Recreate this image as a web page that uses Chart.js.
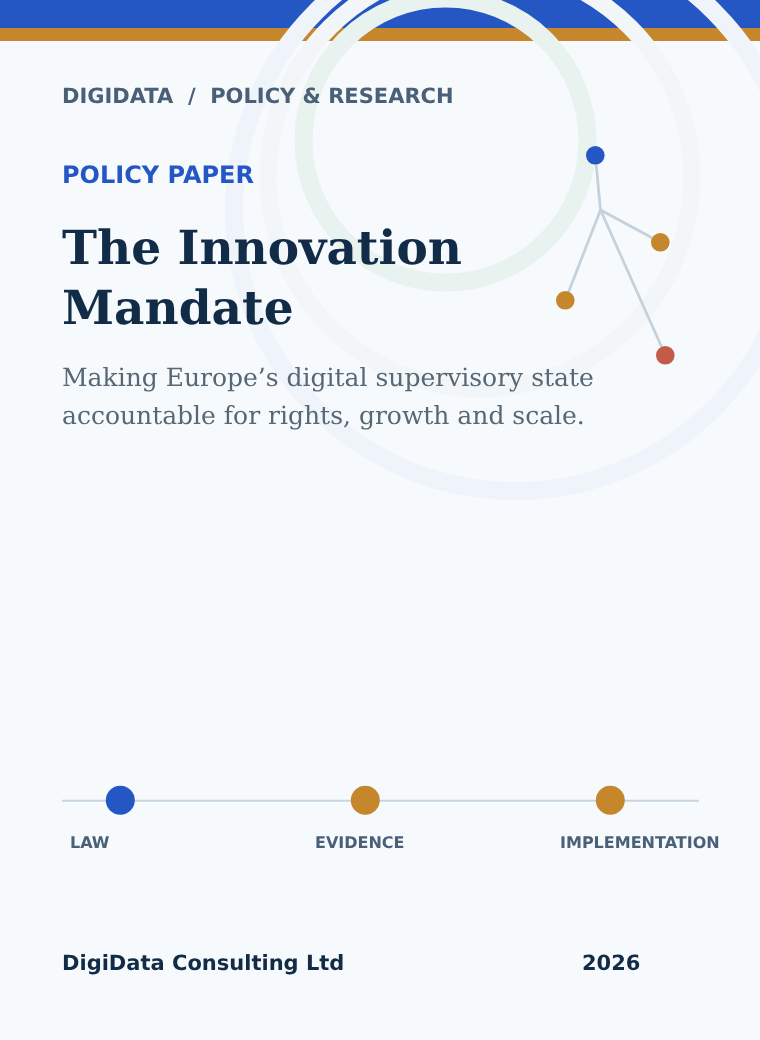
<!DOCTYPE html>
<html><head><meta charset="utf-8">
<script src="https://cdn.jsdelivr.net/npm/chart.js@4/dist/chart.umd.min.js"></script>
<style>
html,body{margin:0;padding:0;background:#f7fafd;width:760px;height:1040px;overflow:hidden}
#page{position:relative;width:760px;height:1040px;overflow:hidden}
.band{position:absolute;left:0;width:760px}
#blue{top:0;height:28px;background:#2456c4}
#gold{top:28px;height:13px;background:#c6862c}
canvas{position:absolute;left:0;top:0}
.t{position:absolute;white-space:nowrap;line-height:1;font-family:"DejaVu Sans",sans-serif;text-rendering:geometricPrecision}
.b{font-weight:700}
.serif{font-family:"DejaVu Serif",serif}
</style></head><body>
<div id="page">
<div id="blue" class="band"></div><div id="gold" class="band"></div>
<canvas id="c" width="760" height="1040"></canvas>
<div class="t b" style="left:62px;top:85.5px;font-size:21px;color:#4a6078;white-space:pre">DIGIDATA  /  POLICY &amp; RESEARCH</div>
<div class="t b" style="left:62px;top:163px;font-size:24px;color:#2456c4">POLICY PAPER</div>
<div class="t b serif" style="left:62px;top:225px;font-size:47px;color:#122c47">The Innovation</div>
<div class="t b serif" style="left:62px;top:285px;font-size:47px;color:#122c47">Mandate</div>
<div class="t serif" style="left:62px;top:365px;font-size:25px;color:#566875">Making Europe’s digital supervisory state</div>
<div class="t serif" style="left:62px;top:403px;font-size:25px;color:#566875">accountable for rights, growth and scale.</div>
<div id="stages"></div>
<div class="t b" style="left:62px;top:953px;font-size:21px;color:#122c47">DigiData Consulting Ltd</div>
<div class="t b" style="left:582px;top:953px;font-size:21px;color:#122c47">2026</div>
</div>
<script>
const stageNames=["LAW","EVIDENCE","IMPLEMENTATION"];
const stageX=[120.3,365.3,610.3];
const stageY=[800.3,800.3,800.3];
const stageColors=["#2456c4","#c6862c","#c6862c"];
const ruleX=[62,699];
const ruleY=[800.7,800.7];
const hub=[600.5,210];
const nodeX=[595.3,660.3,565.3,665.3];
const nodeY=[155.3,242.3,300.3,355.3];
const nodeColors=["#2456c4","#c6862c","#c6862c","#c25b48"];
const ringX=[515,480,445.5];
const ringY=[210,177,140.5];
const ringR=[281,212,142];
const ringWidths=[18,17,18];
const ringColors=["#eff3fa","#f2f6f9","#e8f3ef"];

const datasets=[];
datasets.push({type:'scatter',data:stageX.map((x,i)=>({x,y:stageY[i]})),pointRadius:14.5,pointBackgroundColor:stageColors,pointBorderWidth:0,showLine:false,order:1});
datasets.push({type:'scatter',data:ruleX.map((x,i)=>({x,y:ruleY[i]})),showLine:true,borderColor:'#c8d5e2',borderWidth:2,pointRadius:0,order:2});
datasets.push({type:'scatter',data:nodeX.map((x,i)=>({x,y:nodeY[i]})),pointRadius:9.3,pointBackgroundColor:nodeColors,pointBorderWidth:0,showLine:false,order:3});
nodeX.forEach((x,i)=>datasets.push({type:'scatter',data:[{x:hub[0],y:hub[1]},{x,y:nodeY[i]}],showLine:true,borderColor:'#c5d2dc',borderWidth:2.8,pointRadius:0,order:4}));
ringX.forEach((x,i)=>datasets.push({type:'bubble',clip:false,data:[{x,y:ringY[i],r:ringR[i]}],backgroundColor:'transparent',borderColor:ringColors[i],borderWidth:ringWidths[i],order:5+i}));

const chart=new Chart(document.getElementById('c'),{
 type:'scatter',data:{datasets},
 options:{responsive:false,animation:false,events:[],layout:{padding:0,autoPadding:false},
  plugins:{legend:{display:false},tooltip:{enabled:false}},
  scales:{x:{type:'linear',min:0,max:760,display:false},y:{type:'linear',min:0,max:1040,reverse:true,display:false}}}
});
const wrap=document.getElementById('stages');
stageNames.forEach((n,i)=>{const d=document.createElement('div');d.className='t b';d.textContent=n;
 d.style.cssText=`left:${Math.round(chart.scales.x.getPixelForValue(stageX[i]))-50}px;top:835px;font-size:16px;color:#4a6078`;wrap.appendChild(d);});
</script>
</body></html>
